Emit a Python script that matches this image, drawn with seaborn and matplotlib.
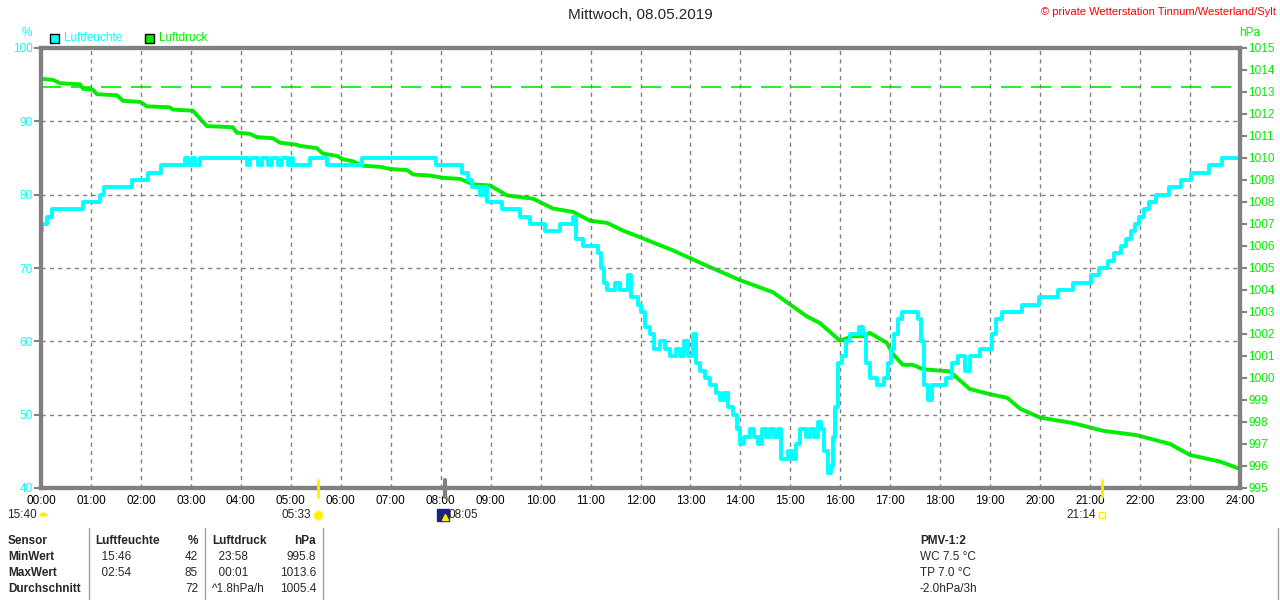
import matplotlib
matplotlib.use("Agg")
from matplotlib import pyplot as plt
import matplotlib.transforms as mtransforms
import pandas as pd
import seaborn as sns

# humidity (%), step values: hour of day -> value
hum_hours = [0.00, 0.02, 0.12, 0.22, 0.84, 1.18, 1.26, 1.82, 2.14, 2.40,
             2.88, 2.94, 3.02, 3.08, 3.18, 4.12, 4.18, 4.34, 4.42, 4.54,
             4.62, 4.74, 4.82, 4.94, 5.00, 5.04, 5.38, 5.72, 6.42, 7.91,
             8.35, 8.43, 8.55, 8.63, 8.79, 8.87, 8.93, 9.23, 9.59, 9.79,
             10.09, 10.39, 10.65, 10.71, 10.85, 11.15, 11.21, 11.27, 11.33, 11.49,
             11.59, 11.75, 11.81, 11.95, 12.01, 12.09, 12.19, 12.27, 12.39, 12.49,
             12.59, 12.71, 12.79, 12.87, 12.95, 13.05, 13.11, 13.19, 13.29, 13.39,
             13.51, 13.59, 13.67, 13.75, 13.85, 13.93, 13.99, 14.07, 14.19, 14.27,
             14.35, 14.43, 14.51, 14.59, 14.67, 14.75, 14.81, 14.95, 15.03, 15.11,
             15.19, 15.31, 15.39, 15.47, 15.55, 15.61, 15.67, 15.75, 15.81, 15.85,
             15.89, 15.95, 16.03, 16.11, 16.19, 16.37, 16.45, 16.51, 16.59, 16.73,
             16.87, 16.95, 17.01, 17.07, 17.15, 17.23, 17.55, 17.61, 17.67, 17.75,
             17.83, 18.11, 18.23, 18.35, 18.49, 18.59, 18.79, 19.03, 19.11, 19.23,
             19.63, 19.98, 20.36, 20.66, 21.02, 21.18, 21.36, 21.48, 21.62, 21.72,
             21.82, 21.90, 21.98, 22.08, 22.18, 22.32, 22.58, 22.82, 23.02, 23.38,
             23.64, 24.00]
hum_values = [75, 76, 77, 78, 79, 80, 81, 82, 83, 84,
              85, 84, 85, 84, 85, 84, 85, 84, 85, 84,
              85, 84, 85, 84, 85, 84, 85, 84, 85, 84,
              84, 83, 82, 81, 80, 81, 79, 78, 77, 76,
              75, 76, 77, 74, 73, 72, 70, 68, 67, 68,
              67, 69, 66, 65, 64, 62, 61, 59, 60, 59,
              58, 59, 58, 60, 58, 61, 57, 56, 55, 54,
              53, 52, 53, 51, 50, 48, 46, 47, 48, 47,
              46, 48, 47, 48, 47, 48, 44, 45, 44, 46,
              48, 47, 48, 47, 49, 48, 45, 42, 43, 47,
              51, 57, 58, 60, 61, 62, 61, 57, 55, 54,
              55, 57, 59, 61, 63, 64, 63, 60, 54, 52,
              54, 55, 57, 58, 56, 58, 59, 61, 63, 64,
              65, 66, 67, 68, 69, 70, 71, 72, 73, 74,
              75, 76, 77, 78, 79, 80, 81, 82, 83, 84,
              85, 85]

# air pressure (hPa)
pres_hours = [0.00, 0.24, 0.38, 0.78, 0.84, 1.04, 1.12, 1.52, 1.64, 1.98,
              2.12, 2.58, 2.64, 3.04, 3.18, 3.32, 3.84, 3.92, 4.18, 4.32,
              4.64, 4.78, 5.12, 5.18, 5.52, 5.64, 5.92, 6.04, 6.24, 6.44,
              6.79, 6.99, 7.33, 7.45, 7.79, 8.05, 8.39, 8.65, 8.99, 9.33,
              9.85, 10.25, 10.65, 10.99, 11.33, 11.65, 11.99, 12.65, 13.33, 13.99,
              14.65, 15.33, 15.59, 15.99, 16.25, 16.45, 16.59, 16.93, 17.05, 17.25,
              17.45, 17.65, 18.19, 18.59, 18.93, 19.34, 19.60, 20.00, 20.66, 21.26,
              21.94, 22.60, 23.00, 23.60, 23.96]
pres_values = [1013.6, 1013.55, 1013.4, 1013.35, 1013.15, 1013.1, 1012.9, 1012.85, 1012.6, 1012.55,
               1012.35, 1012.3, 1012.2, 1012.15, 1011.8, 1011.45, 1011.4, 1011.15, 1011.1, 1010.95,
               1010.9, 1010.7, 1010.6, 1010.55, 1010.45, 1010.2, 1010.1, 1009.95, 1009.85, 1009.65,
               1009.6, 1009.5, 1009.45, 1009.25, 1009.2, 1009.1, 1009.05, 1008.8, 1008.75, 1008.3,
               1008.15, 1007.7, 1007.55, 1007.15, 1007.05, 1006.7, 1006.4, 1005.8, 1005.1, 1004.45,
               1003.9, 1002.8, 1002.5, 1001.7, 1001.9, 1001.9, 1002.05, 1001.6, 1001.1, 1000.6,
               1000.6, 1000.4, 1000.3, 999.5, 999.3, 999.1, 998.6, 998.2, 997.95, 997.6,
               997.4, 997.0, 996.5, 996.2, 995.9]
normal_pressure = 1013.25

hour_ticks = list(range(25))
hour_labels = [f"{h:02d}:00" for h in hour_ticks]
hum_ticks = [40, 50, 60, 70, 80, 90, 100]
pres_ticks = list(range(995, 1016))

# sun / moon events (hour, label)
moonset = (0.0, "15:40")
sunrise = (5.55, "05:33")
moonrise = (8.08, "08:05")
sunset = (21.23, "21:14")

table_rows = [
    ["Sensor", "Luftfeuchte", "%", "Luftdruck", "hPa"],
    ["MinWert", "  15:46", "42", "  23:58", "995.8"],
    ["MaxWert", "  02:54", "85", "  00:01", "1013.6"],
    ["Durchschnitt", "", "72", "^1.8hPa/h", "1005.4"],
]
pmv_lines = ["PMV-1:2", "WC 7.5 °C", "TP 7.0 °C", "-2.0hPa/3h"]

CYAN = "#00FFFF"
GREEN = "#00EE00"
GRAY = "#808080"
SUN = "#FFEE00"

sns.set_style("white")
plt.rcParams["font.family"] = ["Liberation Sans", "DejaVu Sans"]
plt.rcParams["font.size"] = 8.5

hum = pd.DataFrame({"hour": hum_hours, "value": hum_values})
pres = pd.DataFrame({"hour": pres_hours, "value": pres_values})

fig = plt.figure(figsize=(12.8, 6.0), dpi=100)
ax = fig.add_axes([41 / 1280, 1 - 488 / 600, 1199 / 1280, 440 / 600])
ax2 = ax.twinx()

sns.lineplot(data=pres, x="hour", y="value", ax=ax2, color=GREEN, lw=2.8)
ax2.axhline(normal_pressure, color=GREEN, lw=1.2, dashes=(12, 6))
sns.lineplot(data=hum, x="hour", y="value", ax=ax, color=CYAN, lw=2.8,
             drawstyle="steps-post")
ax.set_zorder(ax2.get_zorder() + 1)
ax.patch.set_visible(False)

ax.set_xlim(0, 24)
ax.set_ylim(40, 100)
ax2.set_ylim(995, 1015)
ax.set_xticks(hour_ticks, hour_labels)
ax.set_yticks(hum_ticks)
ax2.set_yticks(pres_ticks)
ax.set_xlabel("")
ax.set_ylabel("")
ax2.set_ylabel("")
ax.grid(True, color=GRAY, ls=(0, (3, 3)), lw=1)
ax2.grid(False)

for a in (ax, ax2):
    for s in a.spines.values():
        s.set_color(GRAY)
        s.set_linewidth(3)
ax.tick_params(axis="x", length=0, pad=5, labelsize=8.5, colors="black")
ax.tick_params(axis="y", length=5, width=1.5, color=GRAY, labelcolor=CYAN,
               labelsize=8.5, pad=1)
ax2.tick_params(axis="y", length=5, width=1.5, color=GRAY, labelcolor=GREEN,
                labelsize=8.5, pad=1)

# unit labels
fig.text(27 / 1280, 1 - 33 / 600, "%", color=CYAN, ha="center", va="center")
fig.text(1250 / 1280, 1 - 33 / 600, "hPa", color=GREEN, ha="center", va="center")

# title and copyright
fig.text(0.5, 1 - 15 / 600, "Mittwoch, 08.05.2019", ha="center", va="center",
         fontsize=11)
fig.text(1276 / 1280, 1 - 12 / 600, "\u00a9 private Wetterstation Tinnum/Westerland/Sylt",
         ha="right", va="center", color="red", fontsize=8)

# legend boxes
for x0, label, col in [(50, "Luftfeuchte", CYAN), (145, "Luftdruck", GREEN)]:
    fig.patches.append(plt.Rectangle((x0 / 1280, 1 - 43 / 600), 9 / 1280, 9 / 600,
                                     facecolor=col, edgecolor="black", lw=1,
                                     transform=fig.transFigure))
    fig.text((x0 + 14) / 1280, 1 - 38 / 600, label, color=col, va="center")

# sun/moon markers along the time axis
trans = mtransforms.blended_transform_factory(ax.transData, fig.transFigure)
for h in (sunrise[0], sunset[0]):
    ax.plot([h, h], [1 - 480 / 600, 1 - 497 / 600], color=SUN, lw=2,
            transform=trans, clip_on=False, zorder=10)
ax.plot([moonrise[0], moonrise[0]], [1 - 480 / 600, 1 - 497 / 600], color=GRAY,
        lw=3, transform=trans, clip_on=False, zorder=10)

yrow = 1 - 515 / 600
fig.text(37 / 1280, yrow, moonset[1], ha="right", va="center")
ax.plot([0.05], [yrow - 0.002], marker="o", ms=6, color=SUN,
        transform=trans, clip_on=False, fillstyle="top", markeredgewidth=0)
ax.plot([sunrise[0]], [yrow], marker="o", ms=7, color=SUN,
        markeredgecolor="#FFF8A0", transform=trans, clip_on=False)
ax.text(sunrise[0] - 0.15, yrow, sunrise[1], ha="right", va="center", transform=trans)
ax.plot([moonrise[0] - 0.04], [yrow], marker="s", ms=8, color="#1A237E",
        markeredgecolor="#1A237E", transform=trans, clip_on=False)
ax.plot([moonrise[0]], [yrow - 0.003], marker="^", ms=5, color=SUN,
        transform=trans, clip_on=False)
ax.text(moonrise[0] + 0.08, yrow, moonrise[1], ha="left", va="center", transform=trans)
ax.plot([sunset[0]], [yrow], marker="s", ms=4, color="white",
        markeredgecolor=SUN, transform=trans, clip_on=False)
ax.text(sunset[0] - 0.12, yrow, sunset[1], ha="right", va="center", transform=trans)

# statistics table
col_x = [8, 95, 198, 212, 316]
col_ha = ["left", "left", "right", "left", "right"]
for r, row in enumerate(table_rows):
    y = 1 - (541 + 16 * r) / 600
    for c, txt in enumerate(row):
        bold = r == 0 or c == 0
        fig.text(col_x[c] / 1280, y, txt, ha=col_ha[c], va="center",
                 fontweight="bold" if bold else "normal")
for xs in (89, 205, 323, 1278):
    fig.add_artist(plt.Line2D([xs / 1280, xs / 1280], [1 - 528 / 600, 0],
                              color="#A0A0A0", lw=1, transform=fig.transFigure))
for i, txt in enumerate(pmv_lines):
    fig.text(920 / 1280, 1 - (541 + 16 * i) / 600, txt, ha="left", va="center",
             fontweight="bold" if i == 0 else "normal")

fig.savefig("out.png", dpi=100)
